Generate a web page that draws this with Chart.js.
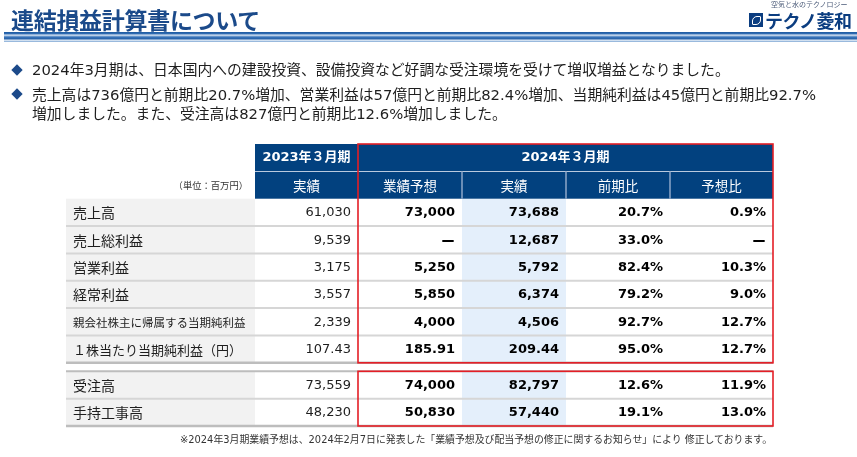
<!DOCTYPE html>
<html><head><meta charset="utf-8">
<script src="https://cdn.jsdelivr.net/npm/chart.js@4/dist/chart.umd.min.js"></script>
<style>
html,body{margin:0;padding:0;background:#fff;}
body{width:857px;height:457px;position:relative;overflow:hidden;font-family:"Noto Sans CJK JP",sans-serif;}
#wrap{position:absolute;left:0;top:0;width:857px;height:457px;z-index:1;}
.abs{position:absolute;white-space:nowrap;z-index:2;}
#title{left:11px;top:6px;font-size:23px;font-weight:bold;color:#1b4a8a;line-height:26px;letter-spacing:-0.3px;}
#bar{left:4px;top:32px;width:853px;height:10px;background:linear-gradient(to bottom,#1d59a0 0%,#2c69b0 15%,#d3e1f1 32%,#3a76bb 50%,#2862a9 68%,#e3ecf6 82%,#7da6d3 100%);}
#tag{left:771px;top:0px;font-size:7px;line-height:9px;color:#4a5a78;}
#logo{left:765px;top:10px;font-size:18px;line-height:20px;font-weight:bold;color:#0b3d80;letter-spacing:-0.5px;}
#icon{left:749px;top:13px;width:14px;height:14px;background:#0b3d80;}
#icon:after{content:"";position:absolute;left:3px;top:3px;width:7px;height:7px;border:1.5px solid #fff;border-radius:5px 1px 5px 1px;}
.dia{width:8px;height:8px;background:#1c4a8a;transform:rotate(45deg);}
.bl{font-family:"DejaVu Sans","Noto Sans CJK JP",sans-serif;font-size:14.8px;line-height:19px;color:#1e1e1e;}
#note{left:180px;top:434px;font-family:"DejaVu Sans","Noto Sans CJK JP",sans-serif;font-size:9.9px;line-height:12px;color:#333;}
</style></head>
<body>
<div id="wrap"><canvas id="c"></canvas></div>
<div class="abs" id="title">連結損益計算書について</div>
<div class="abs" id="bar"></div>
<div class="abs" id="tag">空気と水のテクノロジー</div>
<div class="abs" id="icon"></div>
<div class="abs" id="logo">テクノ菱和</div>
<div class="abs dia" style="left:13px;top:66px;"></div>
<div class="abs bl" style="left:32px;top:60px;">2024年3月期は、日本国内への建設投資、設備投資など好調な受注環境を受けて増収増益となりました。</div>
<div class="abs dia" style="left:13px;top:90px;"></div>
<div class="abs bl" style="left:32px;top:85px;">売上高は736億円と前期比20.7%増加、営業利益は57億円と前期比82.4%増加、当期純利益は45億円と前期比92.7%<br>増加しました。また、受注高は827億円と前期比12.6%増加しました。</div>
<div class="abs" id="note">※2024年3月期業績予想は、2024年2月7日に発表した「業績予想及び配当予想の修正に関するお知らせ」により 修正しております。</div>
<script>
// ---- data ----
const rowLabels = ['売上高','売上総利益','営業利益','経常利益','親会社株主に帰属する当期純利益','１株当たり当期純利益（円）','受注高','手持工事高'];
const periodHeaders = ['2023年３月期','2024年３月期'];
const columnHeaders = ['実績','業績予想','実績','前期比','予想比'];
const unitLabel = '（単位：百万円）';
const actual2023 = [61030, 9539, 3175, 3557, 2339, 107.43, 73559, 48230];
const forecast2024 = [73000, null, 5250, 5850, 4000, 185.91, 74000, 50830];
const actual2024 = [73688, 12687, 5792, 6374, 4506, 209.44, 82797, 57440];
const yoyChangePct = [20.7, 33.0, 82.4, 79.2, 92.7, 95.0, 12.6, 19.1];
const vsForecastPct = [0.9, null, 10.3, 9.0, 12.7, 12.7, 11.9, 13.0];
const valueDecimals = [0, 0, 0, 0, 0, 2, 0, 0];

// ---- layout (not data) ----
const colWidths = [189, 103, 104, 104, 104, 103];
const colEdges = colWidths.reduce((a, w) => { a.push(a[a.length - 1] + w); return a; }, [0]);
const blockGap = 0.31;
const firstBlockRows = 6;
const rowTop = i => 2 + i + (i >= firstBlockRows ? blockGap : 0);
const yMax = rowTop(rowLabels.length - 1) + 1;

const NAVY = '#02417f', RED = '#e41e26', GRAY = '#f2f2f2', LBLUE = '#e4effb';
const NUMF = '"DejaVu Sans","Noto Sans CJK JP",sans-serif';
const JPF = '"Noto Sans CJK JP",sans-serif';

function fmtNum(v, d) {
  if (v === null) return null;
  return v.toLocaleString('en-US', {minimumFractionDigits: d, maximumFractionDigits: d});
}
function fmtPct(v) { return v === null ? null : v.toFixed(1) + '%'; }

const tablePlugin = {
  id: 'tableDraw',
  afterDraw(chart) {
    const {ctx, scales: {x, y}} = chart;
    const X = v => x.getPixelForValue(v);
    const Y = v => y.getPixelForValue(v);
    const nCols = colWidths.length;
    ctx.save();
    rowLabels.forEach((lab, i) => {
      const t = Y(rowTop(i)), b = Y(rowTop(i) + 1);
      ctx.fillStyle = GRAY;
      ctx.fillRect(X(colEdges[0]), t, X(colEdges[1]) - X(colEdges[0]), b - t);
      ctx.fillStyle = LBLUE;
      ctx.fillRect(X(colEdges[3]), t, X(colEdges[4]) - X(colEdges[3]), b - t);
    });
    ctx.fillStyle = NAVY;
    ctx.fillRect(X(colEdges[1]), Y(0), X(colEdges[nCols]) - X(colEdges[1]), Y(2) - Y(0));
    ctx.strokeStyle = '#b9c9de'; ctx.lineWidth = 1;
    ctx.beginPath(); ctx.moveTo(X(colEdges[1]), Math.round(Y(1)) + 0.5); ctx.lineTo(X(colEdges[nCols]), Math.round(Y(1)) + 0.5); ctx.stroke();
    ctx.strokeStyle = '#8ea7c8'; ctx.lineWidth = 1.5;
    for (let c = 3; c < nCols; c++) {
      ctx.beginPath(); ctx.moveTo(X(colEdges[c]), Y(1)); ctx.lineTo(X(colEdges[c]), Y(2)); ctx.stroke();
    }
    rowLabels.forEach((lab, i) => {
      const b = Y(rowTop(i) + 1);
      const last = (i === firstBlockRows - 1) || (i === rowLabels.length - 1);
      ctx.strokeStyle = last ? '#bdbdbd' : '#d6d6d6';
      ctx.lineWidth = last ? 2.5 : 2;
      ctx.beginPath(); ctx.moveTo(X(colEdges[0]), b); ctx.lineTo(X(colEdges[nCols]), b); ctx.stroke();
    });
    ctx.strokeStyle = '#bdbdbd'; ctx.lineWidth = 2;
    const t2 = Y(rowTop(firstBlockRows));
    ctx.beginPath(); ctx.moveTo(X(colEdges[0]), t2); ctx.lineTo(X(colEdges[nCols]), t2); ctx.stroke();

    ctx.textBaseline = 'middle'; ctx.textAlign = 'center'; ctx.fillStyle = '#fff';
    ctx.font = 'bold 13px ' + NUMF;
    ctx.fillText(periodHeaders[0], (X(colEdges[1]) + X(colEdges[2])) / 2, (Y(0) + Y(1)) / 2);
    ctx.fillText(periodHeaders[1], (X(colEdges[2]) + X(colEdges[nCols])) / 2, (Y(0) + Y(1)) / 2);
    ctx.font = '13.5px ' + JPF;
    columnHeaders.forEach((h, k) => {
      ctx.fillText(h, (X(colEdges[k + 1]) + X(colEdges[k + 2])) / 2, (Y(1) + Y(2)) / 2 + 0.5);
    });
    ctx.textAlign = 'right'; ctx.fillStyle = '#333';
    ctx.font = '9.3px ' + JPF;
    ctx.fillText(unitLabel, X(colEdges[1]) - 7, (Y(1) + Y(2)) / 2 + 0.5);

    const series = [actual2023, forecast2024, actual2024, yoyChangePct, vsForecastPct];
    rowLabels.forEach((lab, i) => {
      const cy = Y(rowTop(i) + 0.5);
      ctx.textAlign = 'left'; ctx.fillStyle = '#1e1e1e';
      let fs = 14;
      ctx.font = fs + 'px ' + JPF;
      const avail = X(colEdges[1]) - X(colEdges[0]) - 14;
      while (ctx.measureText(lab).width > avail && fs > 8) { fs -= 0.5; ctx.font = fs + 'px ' + JPF; }
      ctx.fillText(lab, X(colEdges[0]) + 7, cy + 0.5);
      series.forEach((s, k) => {
        const v = s[i];
        const txt = k < 3 ? fmtNum(v, valueDecimals[i]) : fmtPct(v);
        const rx = X(colEdges[k + 2]) - 7;
        ctx.textAlign = 'right';
        if (txt === null) {
          ctx.fillStyle = '#000'; ctx.font = 'bold 14px ' + JPF;
          ctx.fillText('ー', rx, cy + 0.5);
        } else {
          ctx.fillStyle = k === 0 ? '#1e1e1e' : '#000';
          ctx.font = (k === 0 ? '' : 'bold ') + '13px ' + NUMF;
          ctx.fillText(txt, rx, cy + 0.5);
        }
      });
    });

    ctx.strokeStyle = RED; ctx.lineWidth = 1.6;
    ctx.strokeRect(X(colEdges[2]), Y(0), X(colEdges[nCols]) - X(colEdges[2]), Y(rowTop(firstBlockRows - 1) + 1) - Y(0));
    ctx.strokeRect(X(colEdges[2]), Y(rowTop(firstBlockRows)), X(colEdges[nCols]) - X(colEdges[2]), Y(yMax) - Y(rowTop(firstBlockRows)));
    ctx.restore();
  }
};

new Chart(document.getElementById('c'), {
  type: 'scatter',
  data: {datasets: [{data: []}]},
  options: {
    responsive: true, maintainAspectRatio: false, animation: false, events: [],
    layout: {padding: {left: 66, top: 144, right: 857 - 773, bottom: 457 - 426}},
    plugins: {legend: {display: false}, tooltip: {enabled: false}},
    scales: {
      x: {type: 'linear', display: false, min: 0, max: colEdges[colEdges.length - 1]},
      y: {type: 'linear', display: false, min: 0, max: yMax, reverse: true}
    }
  },
  plugins: [tablePlugin]
});
</script>
</body></html>
